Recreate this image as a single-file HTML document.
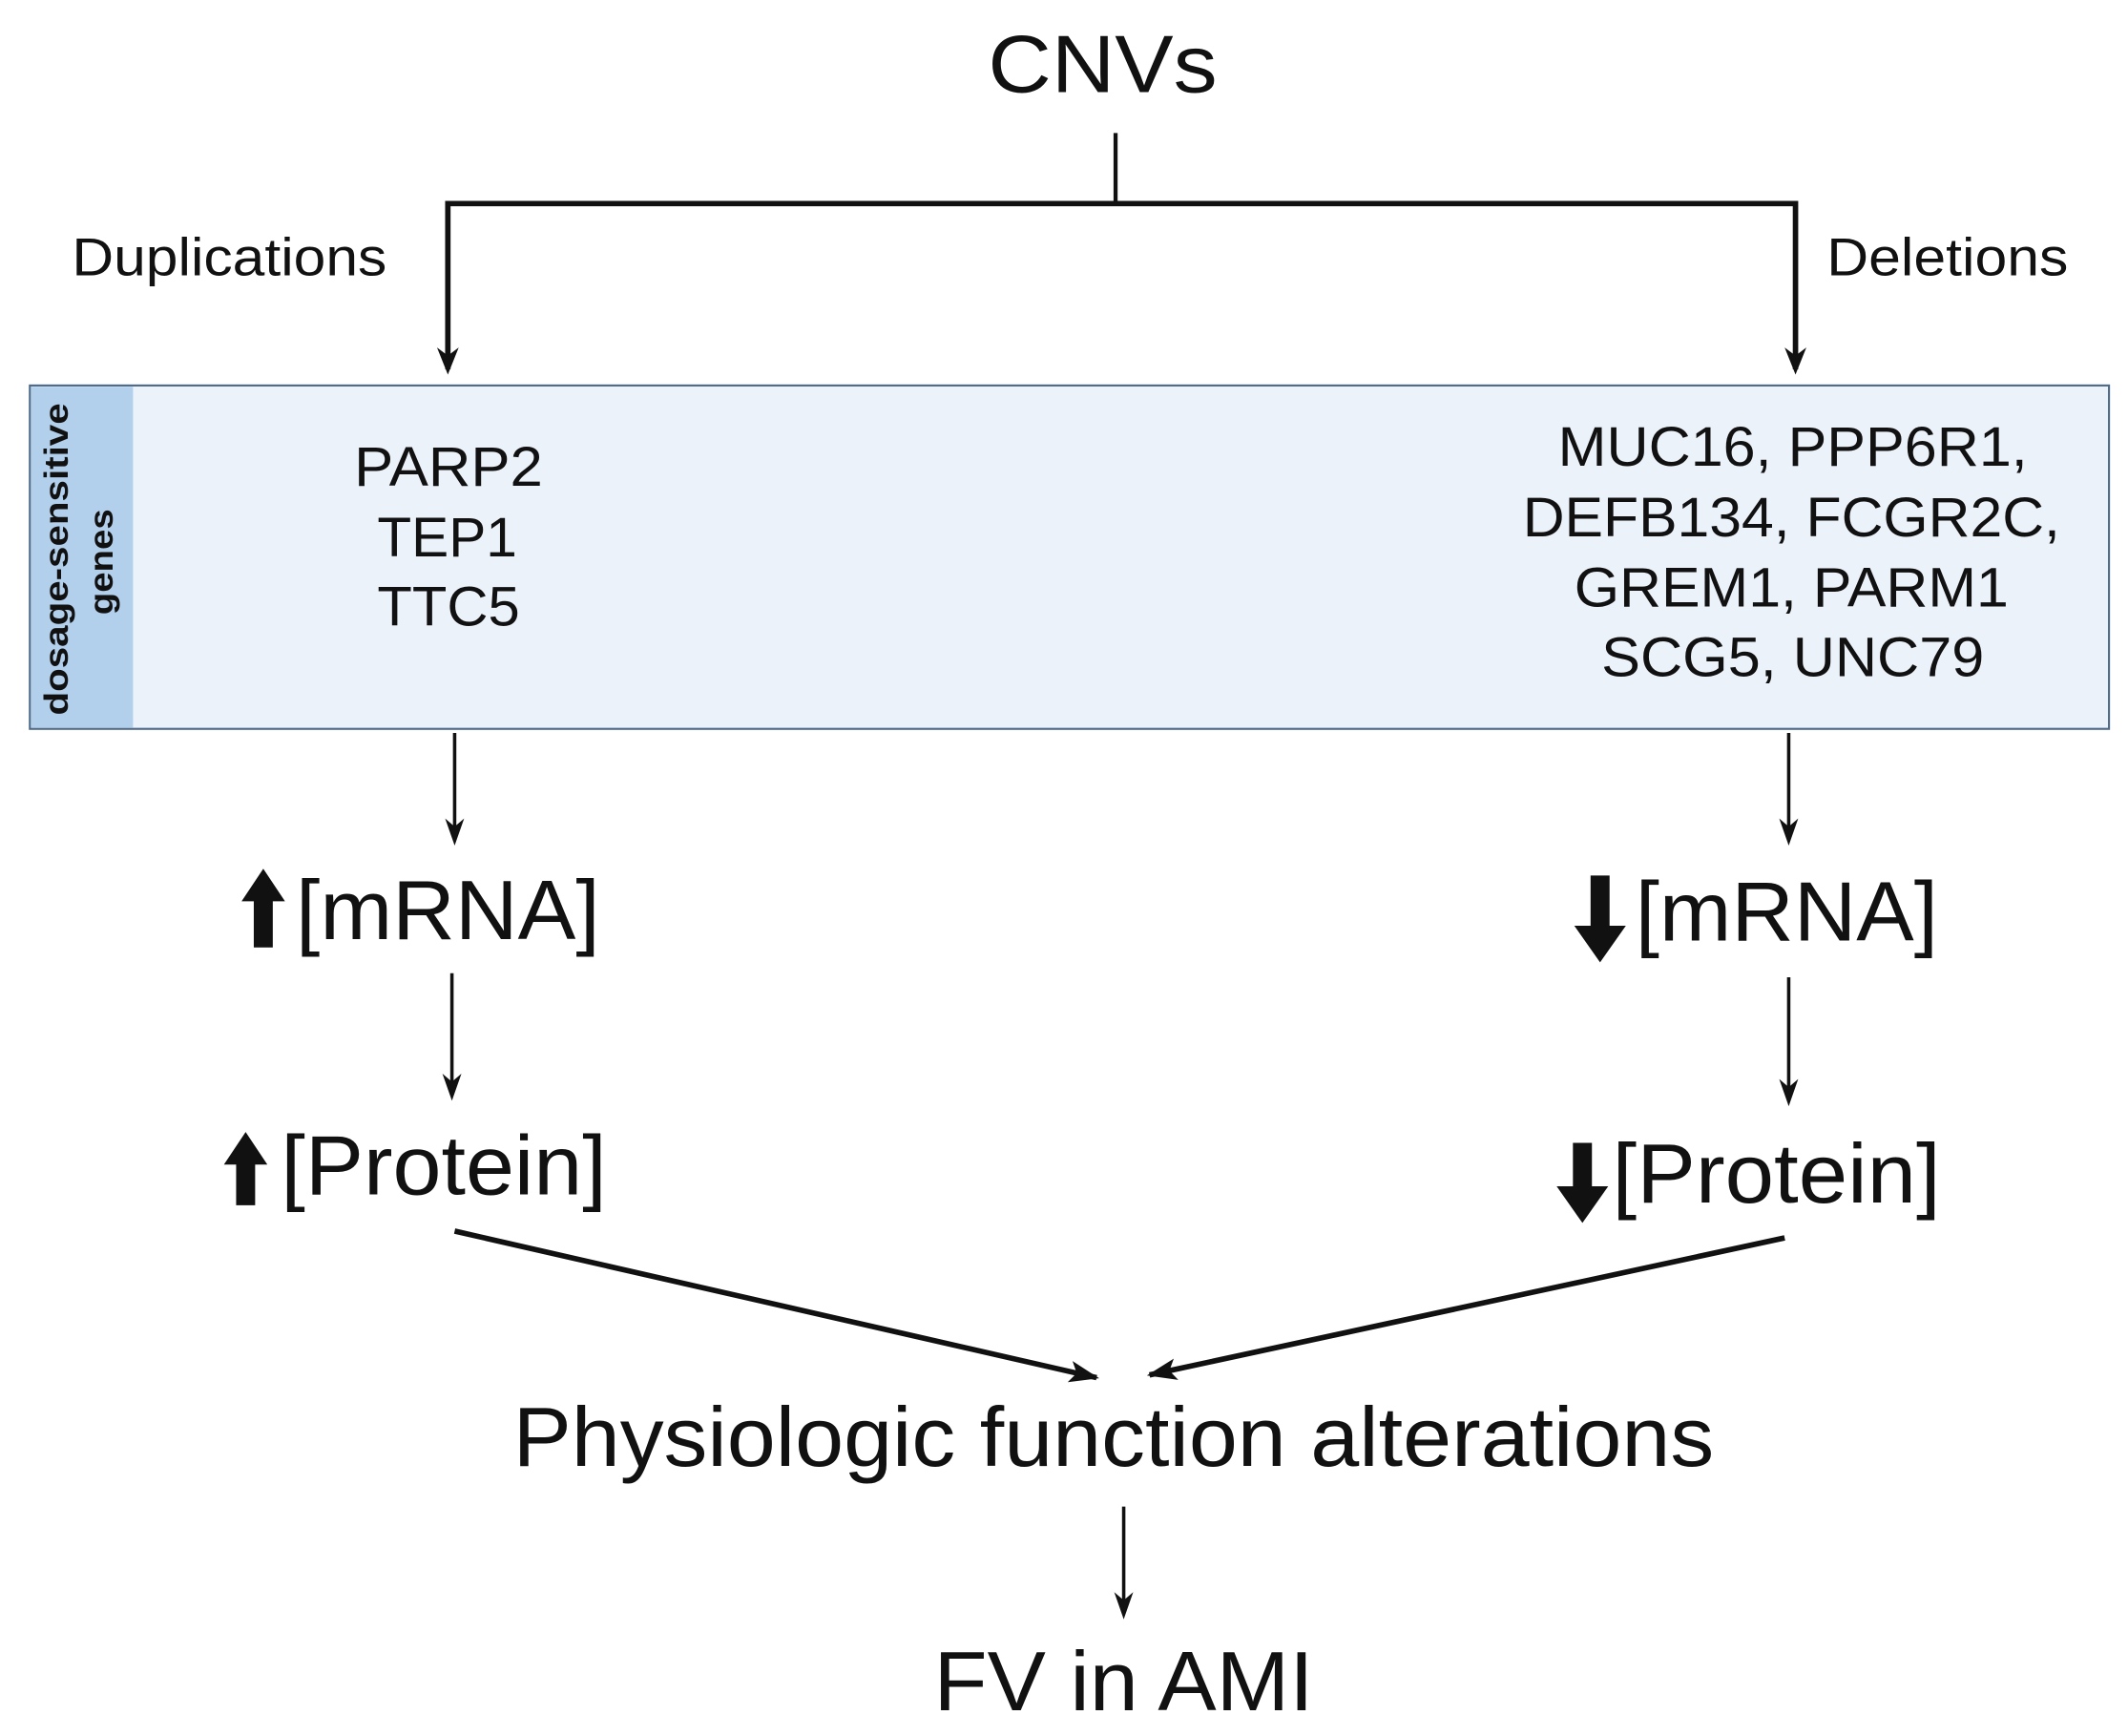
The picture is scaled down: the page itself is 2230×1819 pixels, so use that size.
<!DOCTYPE html>
<html><head><meta charset="utf-8"><style>
html,body{margin:0;padding:0;background:#fff;}
svg{display:block;}
text{font-family:"Liberation Sans",Arial,sans-serif;fill:#111;}
</style></head><body>
<svg width="2230" height="1819" viewBox="0 0 1568 1279" preserveAspectRatio="none" xmlns="http://www.w3.org/2000/svg">
<defs>
<marker id="ah2" markerWidth="22" markerHeight="16" refX="20" refY="8" orient="auto" markerUnits="userSpaceOnUse">
<path d="M0,0 L22,8 L0,16 L5,8 Z" fill="#111"/>
</marker>
</defs>
<text x="728" y="68" font-size="60" textLength="169" lengthAdjust="spacingAndGlyphs">CNVs</text>
<line x1="822" y1="98" x2="822" y2="150" stroke="#111" stroke-width="3"/>
<polyline points="330,272 330,150 1323,150 1323,272" fill="none" stroke="#111" stroke-width="4"/>
<path d="M322,256 L330,276 L338,256 L330,262 Z" fill="#111"/>
<path d="M1315,256 L1323,276 L1331,256 L1323,262 Z" fill="#111"/>
<text x="53" y="203" font-size="39" textLength="232" lengthAdjust="spacingAndGlyphs">Duplications</text>
<text x="1346" y="203" font-size="39" textLength="178" lengthAdjust="spacingAndGlyphs">Deletions</text>

<rect x="22" y="284" width="1532" height="253" fill="#ebf2fa" stroke="#4d6a88" stroke-width="1.5"/>
<rect x="23" y="285" width="75" height="251" fill="#b2cfeb"/>
<g transform="translate(50,412) rotate(-90)"><text x="-115" y="0" font-size="25" font-weight="bold" textLength="230" lengthAdjust="spacingAndGlyphs">dosage-sensitive</text></g>
<g transform="translate(83,414) rotate(-90)"><text x="-39" y="0" font-size="25" font-weight="bold" textLength="78" lengthAdjust="spacingAndGlyphs">genes</text></g>

<text x="261" y="358" font-size="41" textLength="139" lengthAdjust="spacingAndGlyphs">PARP2</text>
<text x="278" y="410" font-size="41" textLength="103" lengthAdjust="spacingAndGlyphs">TEP1</text>
<text x="278" y="461" font-size="41" textLength="105" lengthAdjust="spacingAndGlyphs">TTC5</text>
<text x="1148" y="343" font-size="41" textLength="346" lengthAdjust="spacingAndGlyphs">MUC16, PPP6R1,</text>
<text x="1122" y="395" font-size="41" textLength="396" lengthAdjust="spacingAndGlyphs">DEFB134, FCGR2C,</text>
<text x="1160" y="447" font-size="41" textLength="320" lengthAdjust="spacingAndGlyphs">GREM1, PARM1</text>
<text x="1180" y="498" font-size="41" textLength="282" lengthAdjust="spacingAndGlyphs">SCG5, UNC79</text>

<g stroke="#111" stroke-width="2.5">
<line x1="335" y1="540" x2="335" y2="618"/>
<line x1="1318" y1="540" x2="1318" y2="618"/>
<line x1="333" y1="717" x2="333" y2="806"/>
<line x1="1318" y1="720" x2="1318" y2="810"/>
<line x1="828" y1="1110" x2="828" y2="1188"/>
</g>
<g fill="#111">
<path d="M328,603 L335,623 L342,603 L335,609 Z"/>
<path d="M1311,603 L1318,623 L1325,603 L1318,609 Z"/>
<path d="M326,791 L333,811 L340,791 L333,797 Z"/>
<path d="M1311,795 L1318,815 L1325,795 L1318,801 Z"/>
<path d="M821,1173 L828,1193 L835,1173 L828,1179 Z"/>
</g>

<path d="M194,640 L210,664 L201,664 L201,698 L187,698 L187,664 L178,664 Z" fill="#111"/>
<text x="218" y="692" font-size="62" textLength="224" lengthAdjust="spacingAndGlyphs">[mRNA]</text>
<path d="M1172,645 L1186,645 L1186,682 L1198,682 L1179,709 L1160,682 L1172,682 Z" fill="#111"/>
<text x="1205" y="693" font-size="62" textLength="223" lengthAdjust="spacingAndGlyphs">[mRNA]</text>
<path d="M181,834 L197,858 L188,858 L188,888 L174,888 L174,858 L165,858 Z" fill="#111"/>
<text x="207" y="880" font-size="62" textLength="240" lengthAdjust="spacingAndGlyphs">[Protein]</text>
<path d="M1159,842 L1173,842 L1173,874 L1185,874 L1166,901 L1147,874 L1159,874 Z" fill="#111"/>
<text x="1188" y="886" font-size="62" textLength="242" lengthAdjust="spacingAndGlyphs">[Protein]</text>

<line x1="335" y1="907" x2="808" y2="1015" stroke="#111" stroke-width="4" marker-end="url(#ah2)"/>
<line x1="1315" y1="912" x2="847" y2="1013" stroke="#111" stroke-width="4" marker-end="url(#ah2)"/>

<text x="378" y="1080" font-size="62" textLength="885" lengthAdjust="spacingAndGlyphs">Physiologic function alterations</text>
<text x="688" y="1260" font-size="62" textLength="280" lengthAdjust="spacingAndGlyphs">FV in AMI</text>
</svg>
</body></html>
